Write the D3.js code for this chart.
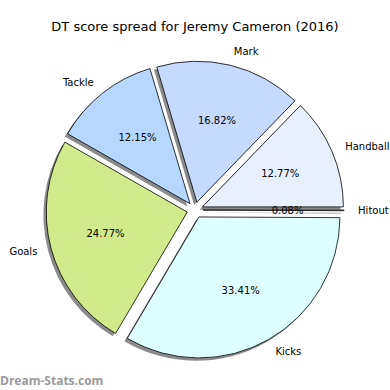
<!DOCTYPE html>
<html>
<head>
<meta charset="utf-8">
<script src="https://cdn.jsdelivr.net/npm/d3@7"></script>
<style>
  body { margin: 0; background: #fff; }
  svg text { font-family: "DejaVu Sans", sans-serif; }
</style>
</head>
<body>
<div id="chart"></div>
<script>
// pie data, counterclockwise from 3 o'clock (matplotlib style)
var labels = ["Handball", "Mark", "Tackle", "Goals", "Kicks", "Hitout"]
var values = [12.77, 16.82, 12.15, 24.77, 33.41, 0.08]
var colors = ["#e8f0fe", "#c6d9ff", "#b6d7ff", "#d0ea8c", "#ddffff", "#f0f0f0"]

var width = 390
var height = 390
var cx = 195
var cy = 210
var radius = 141
var explode = 8

var svg = d3.select("#chart")
  .append("svg")
    .attr("width", width)
    .attr("height", height)

svg.append("text")
  .attr("x", width / 2)
  .attr("y", 26)
  .attr("text-anchor", "middle")
  .attr("dominant-baseline", "central")
  .style("font-size", "13px")
  .text("DT score spread for Jeremy Cameron (2016)")

var data = labels.map(function(l, i) { return {label: l, value: values[i], color: colors[i]} })

var total = d3.sum(values)
// math angle -> d3 angle (clockwise from 12 o'clock)
var pie = d3.pie().sort(null).value(function(d) { return d.value })
  .startAngle(Math.PI / 2).endAngle(Math.PI / 2 - 2 * Math.PI)
var slices = pie(data)

var arcGen = d3.arc().innerRadius(0).outerRadius(radius)

function midMath(d) {
  // mid angle in math radians (ccw from +x)
  var a = (d.startAngle + d.endAngle) / 2
  return Math.PI / 2 - a
}

var g = svg.append("g").attr("transform", "translate(" + cx + "," + cy + ")")

var wedge = g.selectAll(".wedge")
  .data(slices)
  .enter()
  .append("g")
  .attr("transform", function(d) {
    var t = midMath(d)
    return "translate(" + explode * Math.cos(t) + "," + (-explode * Math.sin(t)) + ")"
  })

// shadows first
wedge.append("path")
  .attr("d", arcGen)
  .attr("transform", "translate(-2.8,2.8)")
  .attr("fill", "#8a8a8a")

wedge.append("path")
  .attr("d", arcGen)
  .attr("fill", function(d) { return d.data.color })
  .attr("stroke", "#000")
  .attr("stroke-width", 0.8)
  .attr("stroke-linejoin", "round")

wedge.append("text")
  .attr("x", function(d) { return 0.6 * radius * Math.cos(midMath(d)) })
  .attr("y", function(d) { return -0.6 * radius * Math.sin(midMath(d)) })
  .attr("text-anchor", "middle")
  .attr("dominant-baseline", "central")
  .style("font-size", "10px")
  .text(function(d) { return (d.data.value / total * 100).toFixed(2) + "%" })

wedge.append("text")
  .attr("x", function(d) { return 1.1 * radius * Math.cos(midMath(d)) })
  .attr("y", function(d) { return -1.1 * radius * Math.sin(midMath(d)) })
  .attr("text-anchor", function(d) { return Math.cos(midMath(d)) > 0 ? "start" : "end" })
  .attr("dominant-baseline", "central")
  .style("font-size", "10px")
  .text(function(d) { return d.data.label })

svg.append("text")
  .attr("x", 0)
  .attr("y", 380)
  .attr("dominant-baseline", "central")
  .style("font-family", "'Open Sans', sans-serif")
  .style("font-size", "12px")
  .style("font-weight", "bold")
  .attr("fill", "#9a9a9a")
  .text("Dream-Stats.com")
</script>
</body>
</html>
